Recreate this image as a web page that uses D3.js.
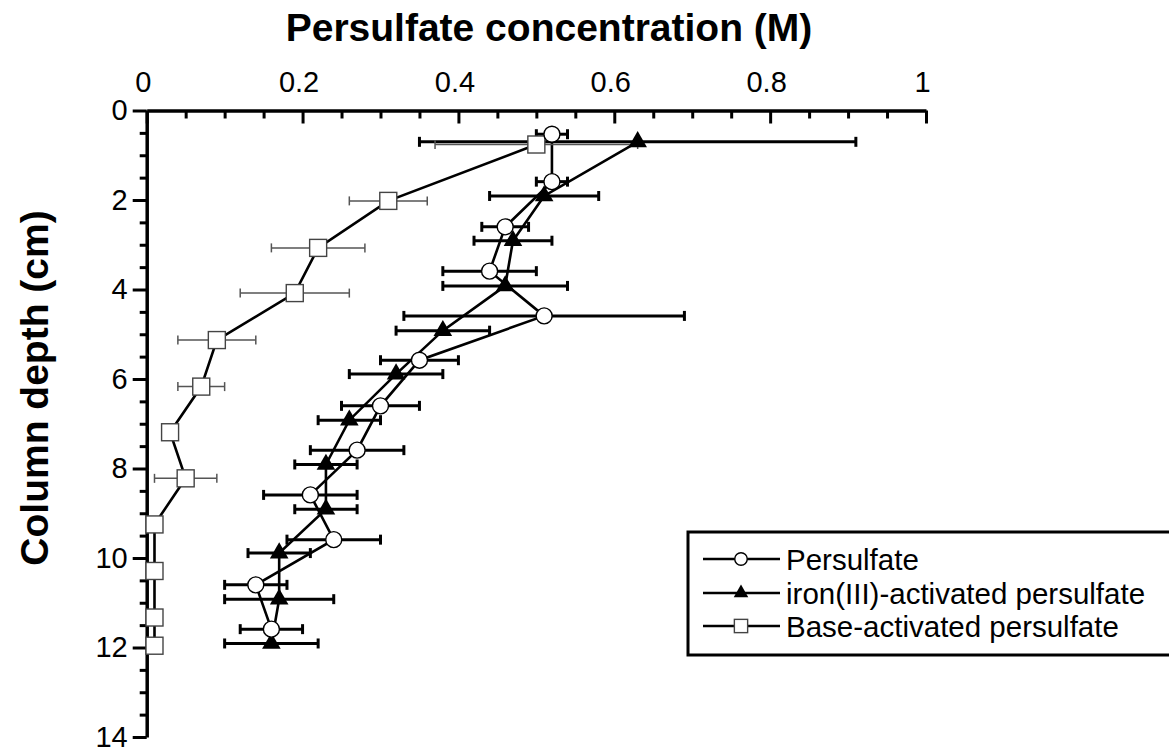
<!DOCTYPE html>
<html>
<head>
<meta charset="utf-8">
<script src="https://cdn.jsdelivr.net/npm/d3@7"></script>
<style>
    body { margin: 0; background: #fff; }
    text { font-family: "Liberation Sans", Arial, sans-serif; fill: #000; }
</style>
</head>
<body>
<div id="chart"></div>
<script>
// Persulfate (open circles)
var depthP = [0.53, 1.59, 2.60, 3.59, 4.59, 5.58, 6.60, 7.59, 8.59, 9.59, 10.60, 11.59];
var concP  = [0.52, 0.52, 0.46, 0.44, 0.51, 0.35, 0.30, 0.27, 0.21, 0.24, 0.14, 0.16];
var errP   = [0.02, 0.02, 0.03, 0.06, 0.18, 0.05, 0.05, 0.06, 0.06, 0.06, 0.04, 0.04];

// iron(III)-activated persulfate (filled triangles)
var depthFe = [0.70, 1.91, 2.91, 3.92, 4.92, 5.89, 6.92, 7.91, 8.91, 9.89, 10.92, 11.91];
var concFe  = [0.63, 0.51, 0.47, 0.46, 0.38, 0.32, 0.26, 0.23, 0.23, 0.17, 0.17, 0.16];
var errFe   = [0.28, 0.07, 0.05, 0.08, 0.06, 0.06, 0.04, 0.04, 0.04, 0.04, 0.07, 0.06];

// Base-activated persulfate (open squares)
var depthB = [0.76, 2.02, 3.07, 4.08, 5.13, 6.17, 7.19, 8.22, 9.25, 10.29, 11.33, 11.96];
var concB  = [0.50, 0.31, 0.22, 0.19, 0.09, 0.07, 0.03, 0.05, 0.01, 0.01, 0.01, 0.01];
var errB   = [0.13, 0.05, 0.06, 0.07, 0.05, 0.03, 0, 0.04, 0, 0, 0, 0];

var xMajor = [0, 0.2, 0.4, 0.6, 0.8, 1];
var yMajor = [0, 2, 4, 6, 8, 10, 12, 14];
var legendLabels = ["Persulfate", "iron(III)-activated persulfate", "Base-activated persulfate"];

var width = 1169,
    height = 753;

var x = d3.scaleLinear().domain([0, 1]).range([146.7, 926]);
var y = d3.scaleLinear().domain([0, 14]).range([110.5, 737]);

var svg = d3.select("#chart").append("svg")
    .attr("width", width)
    .attr("height", height);

function zip(depth, conc, err) {
    return depth.map(function (d, i) {
        return {y: d, x: conc[i], e: err[i]};
    });
}

var series = [
    {name: legendLabels[0], data: zip(depthP, concP, errP), mark: "circle", errColor: "#000", errWidth: 3, cap: 5},
    {name: legendLabels[1], data: zip(depthFe, concFe, errFe), mark: "triangle", errColor: "#000", errWidth: 3, cap: 5},
    {name: legendLabels[2], data: zip(depthB, concB, errB), mark: "square", errColor: "#555", errWidth: 1.5, cap: 4.5}
];

// ---- axes ----
var xMinor = d3.range(0, 1.0001, 0.05).filter(function (v) {
    return Math.abs(v * 5 - Math.round(v * 5)) > 1e-6;
});
var yMinor = d3.range(0, 14.0001, 0.5).filter(function (v) {
    return Math.abs(v / 2 - Math.round(v / 2)) > 1e-6;
});

svg.append("g")
    .attr("transform", "translate(0," + y(0) + ")")
    .call(d3.axisBottom(x).tickValues(xMinor).tickSize(8).tickFormat(""))
    .call(function (g) { g.select(".domain").remove(); })
    .selectAll("line").attr("stroke", "#000").attr("stroke-width", 3);

svg.append("g")
    .attr("transform", "translate(0," + y(0) + ")")
    .call(d3.axisBottom(x).tickValues(xMajor).tickSize(13).tickSizeOuter(0).tickFormat(""))
    .call(function (g) {
        g.select(".domain").attr("stroke-width", 3.5);
        g.selectAll("line").attr("stroke", "#000").attr("stroke-width", 3);
    });

svg.append("g")
    .attr("transform", "translate(0," + y(0) + ")")
    .call(d3.axisTop(x).tickValues(xMajor).tickSize(0).tickPadding(19).tickFormat(d3.format("")))
    .call(function (g) {
        g.select(".domain").remove();
        g.selectAll("text")
            .attr("dx", -4)
            .style("font-size", "29px")
            .attr("fill", "#000");
    });

svg.append("g")
    .attr("transform", "translate(" + x(0) + ",0)")
    .call(d3.axisLeft(y).tickValues(yMinor).tickSize(7).tickFormat(""))
    .call(function (g) { g.select(".domain").remove(); })
    .selectAll("line").attr("stroke", "#000").attr("stroke-width", 3);

svg.append("g")
    .attr("transform", "translate(" + x(0) + ",0)")
    .call(d3.axisLeft(y).tickValues(yMajor).tickSize(14).tickSizeOuter(0).tickPadding(5))
    .call(function (g) {
        g.select(".domain").attr("stroke-width", 3.5);
        g.selectAll("line").attr("stroke", "#000").attr("stroke-width", 3);
        g.selectAll("text").style("font-size", "29px").attr("fill", "#000");
    });

// ---- titles ----
svg.append("text")
    .attr("x", 549)
    .attr("y", 41)
    .attr("text-anchor", "middle")
    .style("font-size", "39px")
    .style("font-weight", "bold")
    .text("Persulfate concentration (M)");

svg.append("text")
    .attr("transform", "translate(48,388) rotate(-90)")
    .attr("text-anchor", "middle")
    .style("font-size", "39px")
    .style("font-weight", "bold")
    .text("Column depth (cm)");

// ---- lines ----
var line = d3.line()
    .x(function (d) { return x(d.x); })
    .y(function (d) { return y(d.y); });

series.forEach(function (s) {
    svg.append("path")
        .datum(s.data)
        .attr("d", line)
        .attr("fill", "none")
        .attr("stroke", "#000")
        .attr("stroke-width", 2.6);
});

// ---- error bars ----
series.forEach(function (s) {
    var g = svg.append("g")
        .attr("stroke", s.errColor)
        .attr("stroke-width", s.errWidth);
    var withErr = s.data.filter(function (d) { return d.e > 0; });
    g.selectAll(".bar").data(withErr).enter().append("line")
        .attr("x1", function (d) { return x(d.x - d.e); })
        .attr("x2", function (d) { return x(d.x + d.e); })
        .attr("y1", function (d) { return y(d.y); })
        .attr("y2", function (d) { return y(d.y); });
    [-1, 1].forEach(function (side) {
        g.selectAll(".cap" + side).data(withErr).enter().append("line")
            .attr("x1", function (d) { return x(d.x + side * d.e); })
            .attr("x2", function (d) { return x(d.x + side * d.e); })
            .attr("y1", function (d) { return y(d.y) - s.cap; })
            .attr("y2", function (d) { return y(d.y) + s.cap; });
    });
});

// ---- markers ----
function drawMarker(sel, type, scale) {
    if (type === "circle") {
        sel.append("circle")
            .attr("r", 8 * scale)
            .attr("fill", "#fff")
            .attr("stroke", "#000")
            .attr("stroke-width", 1.4);
    } else if (type === "triangle") {
        sel.append("path")
            .attr("d", d3.symbol().type(d3.symbolTriangle).size(150 * scale * scale)())
            .attr("fill", "#000");
    } else {
        var h = 8.5 * scale;
        sel.append("rect")
            .attr("x", -h).attr("y", -h)
            .attr("width", 2 * h).attr("height", 2 * h)
            .attr("fill", "#fff")
            .attr("stroke", "#444")
            .attr("stroke-width", 1.4);
    }
}

[series[2], series[1], series[0]].forEach(function (s) {
    svg.append("g").selectAll("g").data(s.data).enter().append("g")
        .attr("transform", function (d) { return "translate(" + x(d.x) + "," + y(d.y) + ")"; })
        .each(function () { drawMarker(d3.select(this), s.mark, 1); });
});

// ---- legend ----
var legend = svg.append("g");
legend.append("rect")
    .attr("x", 688)
    .attr("y", 532)
    .attr("width", 500)
    .attr("height", 123)
    .attr("fill", "#fff")
    .attr("stroke", "#000")
    .attr("stroke-width", 3);

var rowY = [559, 593, 626];
series.forEach(function (s, i) {
    var row = legend.append("g").attr("transform", "translate(0," + rowY[i] + ")");
    row.append("line")
        .attr("x1", 703).attr("x2", 780)
        .attr("stroke", "#000").attr("stroke-width", 2.6);
    var m = row.append("g").attr("transform", "translate(741,0)");
    drawMarker(m, s.mark, 0.78);
    row.append("text")
        .attr("x", 786)
        .attr("y", 10.5)
        .style("font-size", "29.5px")
        .text(s.name);
});
</script>
</body>
</html>
